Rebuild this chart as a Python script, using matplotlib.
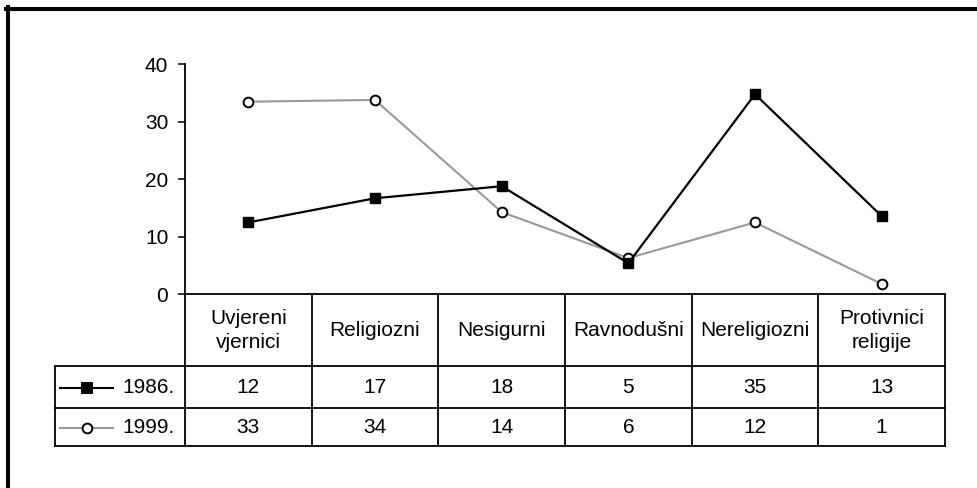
import matplotlib
matplotlib.use("Agg")
import matplotlib.pyplot as plt
from matplotlib.lines import Line2D

plt.rcParams['font.family'] = ['Liberation Sans', 'DejaVu Sans']

# data
categories = ["Uvjereni\nvjernici", "Religiozni", "Nesigurni", "Ravnodušni",
              "Nereligiozni", "Protivnici\nreligije"]
series_names = ["1986.", "1999."]
values_1986 = [12.5, 16.7, 18.8, 5.4, 34.8, 13.6]
values_1999 = [33.5, 33.8, 14.3, 6.3, 12.5, 1.8]
table_1986 = [12, 17, 18, 5, 35, 13]
table_1999 = [33, 34, 14, 6, 12, 1]
yticks = [0, 10, 20, 30, 40]

W, H = 978, 488
fig = plt.figure(figsize=(W / 100, H / 100), dpi=100)


def fx(px):
    return px / W


def fy(py):
    return 1 - py / H


# layout in pixels
x_left, x_right = 185, 945
x_leg = 55
y_top, y_zero = 64.3, 294.3
row_edges = [294.3, 366, 407.7, 445.7]
ncol = len(categories)
colw = (x_right - x_left) / ncol

ax = fig.add_axes([fx(x_left), fy(y_zero), fx(x_right) - fx(x_left), fy(y_top) - fy(y_zero)])
ax.set_xlim(-0.5, ncol - 0.5)
ax.set_ylim(0, 40)
ax.set_yticks(yticks)
ax.set_xticks([])
for s in ["top", "right"]:
    ax.spines[s].set_visible(False)
ax.spines["left"].set_linewidth(1.3)
ax.spines["bottom"].set_linewidth(1.3)
ax.tick_params(axis="y", length=5, width=1.1, pad=7, labelsize=15)

xs = range(ncol)
ax.plot(xs, values_1999, color="#999999", lw=1.5, marker="o", ms=7,
        mfc="white", mec="black", mew=1.4, clip_on=False, zorder=3)
ax.plot(xs, values_1986, color="black", lw=1.6, marker="s", ms=7.5,
        mfc="black", mec="black", clip_on=False, zorder=4)

# data table
tab = fig.add_axes([fx(x_leg), fy(row_edges[-1]), fx(x_right) - fx(x_leg),
                    fy(row_edges[0]) - fy(row_edges[-1])])
xl = -0.5 - (x_left - x_leg) / colw
tab.set_xlim(xl, ncol - 0.5)
tab.set_ylim(row_edges[-1], row_edges[0])
tab.axis("off")

lk = dict(color="black", lw=1.3, clip_on=False)
for i in range(ncol + 1):
    tab.plot([i - 0.5, i - 0.5], [row_edges[0], row_edges[-1]], **lk)
tab.plot([xl, xl], [row_edges[1], row_edges[-1]], **lk)
for yy in row_edges[1:]:
    tab.plot([xl, ncol - 0.5], [yy, yy], **lk)

hc = (row_edges[0] + row_edges[1]) / 2
for i, name in enumerate(categories):
    tab.text(i, hc, name, ha="center", va="center", fontsize=15, linespacing=1.35)

rows = [(table_1986, "black", "s", "black"), (table_1999, "#999999", "o", "white")]
for r, (vals, col, mk, mfc) in enumerate(rows):
    yc = (row_edges[r + 1] + row_edges[r + 2]) / 2
    for i, v in enumerate(vals):
        tab.text(i, yc + 1, str(v), ha="center", va="center", fontsize=15)
    x0 = -0.5 - (x_left - 60) / colw
    x1 = -0.5 - (x_left - 113) / colw
    tab.plot([x0, x1], [yc + 1, yc + 1], color=col, lw=1.5, clip_on=False)
    tab.plot([(x0 + x1) / 2], [yc + 1], marker=mk, ms=7 if mk == "o" else 7.5,
             mfc=mfc, mec="black", mew=1.4, clip_on=False)
    tab.text(-0.5 - (x_left - 122) / colw, yc + 1, series_names[r],
             ha="left", va="center", fontsize=15)

# outer frame (top and left only visible)
fig.add_artist(Line2D([fx(6), 1], [fy(8.5), fy(8.5)], color="black", lw=2.9,
                      transform=fig.transFigure))
fig.add_artist(Line2D([fx(8), fx(8)], [fy(6.5), 0], color="black", lw=2.9,
                      transform=fig.transFigure))

fig.savefig("out.png", dpi=100)
